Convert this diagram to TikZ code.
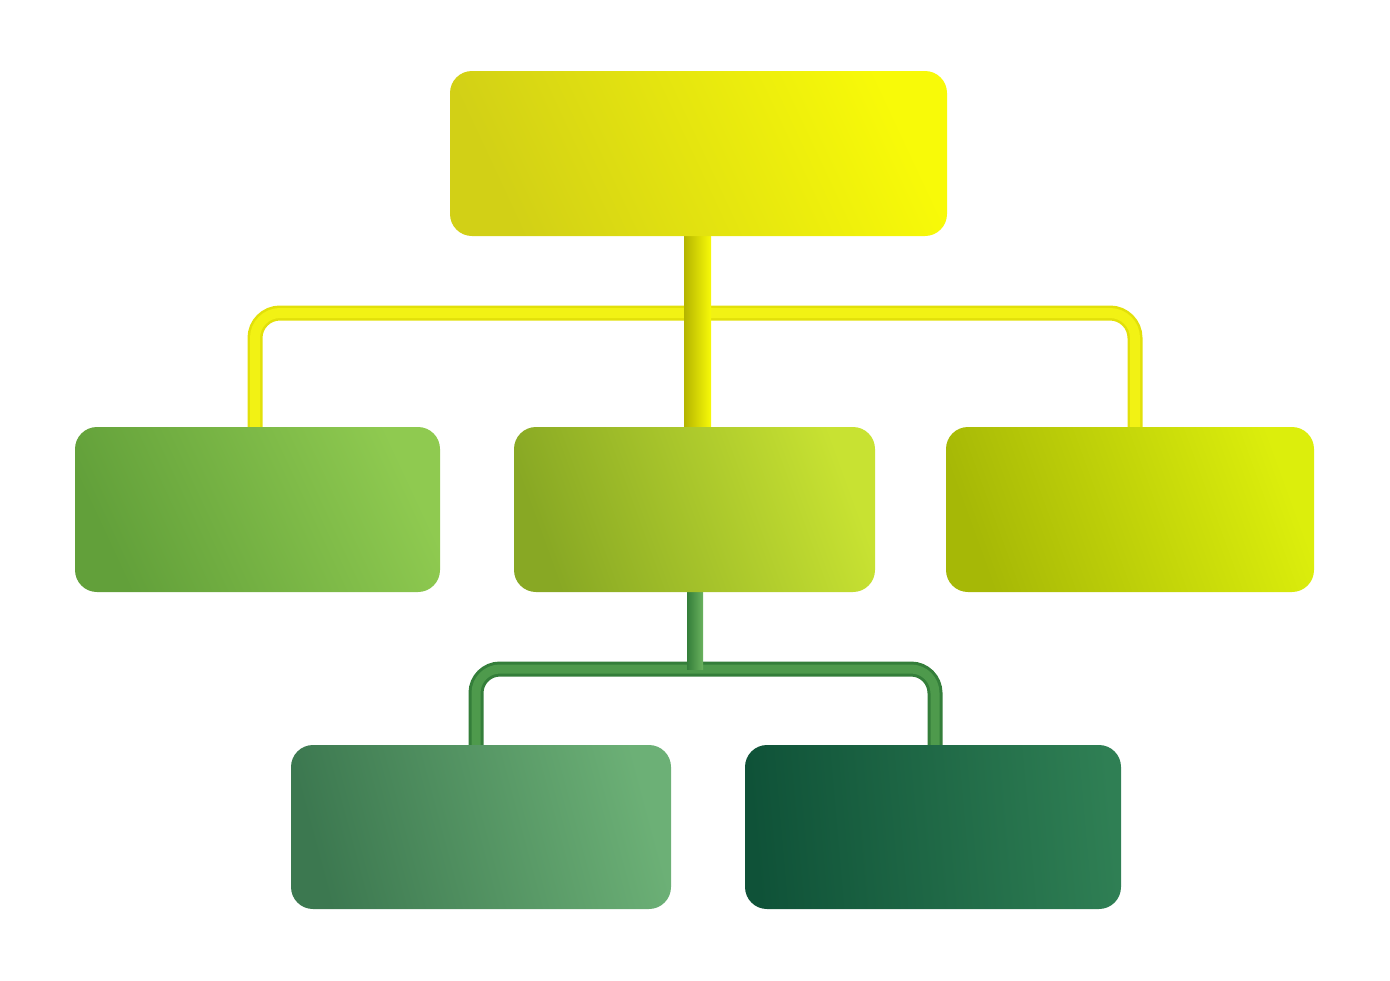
\documentclass[tikz,border=0pt]{standalone}
\usetikzlibrary{calc}
\definecolor{topA}{HTML}{D2D016}
\definecolor{topB}{HTML}{F8FA08}
\definecolor{m1A}{HTML}{62A03A}
\definecolor{m1B}{HTML}{8FCA50}
\definecolor{m2A}{HTML}{88A824}
\definecolor{m2B}{HTML}{C8E232}
\definecolor{m3A}{HTML}{A6B806}
\definecolor{m3B}{HTML}{DCEE0C}
\definecolor{b1A}{HTML}{3C7850}
\definecolor{b1B}{HTML}{6CB076}
\definecolor{b2A}{HTML}{0F5238}
\definecolor{b2B}{HTML}{2F7F54}
\definecolor{ypipeO}{HTML}{E2E00A}
\definecolor{ypipeI}{HTML}{F2F214}
\definecolor{ystemD}{HTML}{B4B400}
\definecolor{gpipeO}{HTML}{347E3A}
\definecolor{gpipeI}{HTML}{4E9A4C}
\definecolor{gstemL}{HTML}{6AB25E}
\tikzset{
  box/.style={rectangle, rounded corners=11pt, inner sep=0pt, draw=none},
  topbox/.style={box, minimum width=248.5pt, minimum height=82.5pt},
  midbox/.style={box, minimum height=82.5pt},
  botbox/.style={box, minimum height=82pt},
  ypipe/.style={line width=7.5pt, draw=ypipeO, rounded corners=12.5pt},
  ypipein/.style={line width=5pt, draw=ypipeI, rounded corners=12.5pt},
  gpipe/.style={line width=7.5pt, draw=gpipeO, rounded corners=12pt},
  gpipein/.style={line width=4.5pt, draw=gpipeI, rounded corners=12pt},
}
\begin{document}
\begin{tikzpicture}[x=0.5pt,y=-0.5pt]
\useasboundingbox (0,0) rectangle (1390,980);
% connectors first (behind boxes)
\coordinate (bus1) at (697,313);
\coordinate (bus2) at (695,669);
\coordinate (ml) at (255,427);
\coordinate (mr) at (1135,427);
\coordinate (bl) at (476,745);
\coordinate (br) at (935,745);
\draw[ypipe] (ml) |- (bus1) -| (mr);
\draw[ypipein] (ml) |- (bus1) -| (mr);
\shade[left color=ystemD, right color=topB, shading angle=90] (684,236) rectangle (711,427);
\draw[gpipe] (bl) |- (bus2) -| (br);
\draw[gpipein] (bl) |- (bus2) -| (br);
\shade[left color=gpipeO, right color=gstemL, shading angle=90] (687,592) rectangle (703,669);
% boxes
\node[topbox, left color=topA, right color=topB, shading angle=115] (top) at (698.5,153.5) {};
\node[midbox, minimum width=182.5pt, left color=m1A, right color=m1B, shading angle=115] (mid1) at (257.5,509.5) {};
\node[midbox, minimum width=180.5pt, left color=m2A, right color=m2B, shading angle=110] (mid2) at (694.5,509.5) {};
\node[midbox, minimum width=184pt, left color=m3A, right color=m3B, shading angle=110] (mid3) at (1130,509.5) {};
\node[botbox, minimum width=190pt, left color=b1A, right color=b1B, shading angle=105] (bot1) at (481,827) {};
\node[botbox, minimum width=188pt, left color=b2A, right color=b2B, shading angle=95] (bot2) at (933,827) {};
\end{tikzpicture}
\end{document}
